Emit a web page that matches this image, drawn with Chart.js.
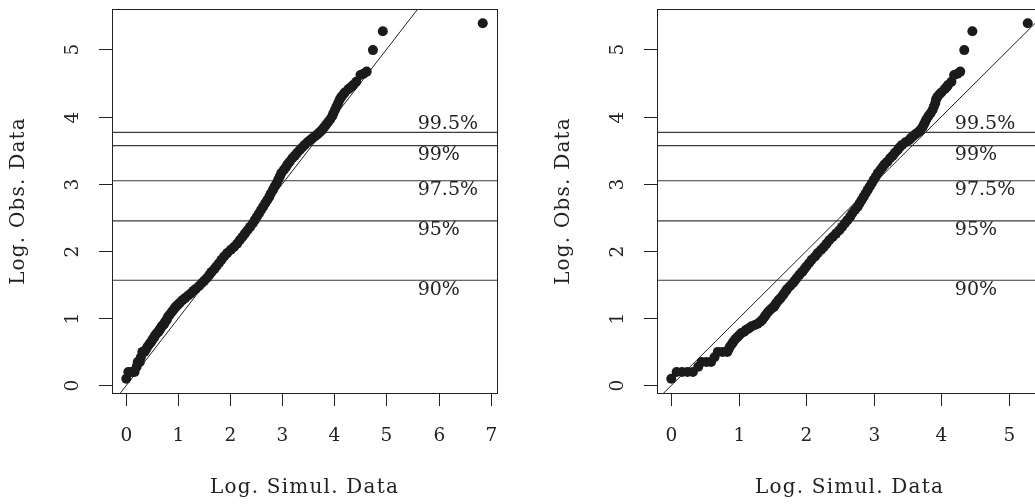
<!DOCTYPE html>
<html>
<head>
<meta charset="utf-8">
<script src="https://cdn.jsdelivr.net/npm/chart.js@4"></script>
<style>
  html, body { margin: 0; padding: 0; background: #fff; }
  #wrap { width: 1035px; height: 504px; overflow: hidden; position: relative; }
  canvas { position: absolute; top: 0; }
  #qqLeft { left: 0; }
  #qqRight { left: 545px; }
</style>
</head>
<body>
<div id="wrap">
  <canvas id="qqLeft" width="545" height="504"></canvas>
  <canvas id="qqRight" width="545" height="504"></canvas>
</div>
<script>
/* ── Data ───────────────────────────────────────────── */
// sorted log observed data, shared by both panels
const obsY = [0.10, 0.20, 0.20, 0.20, 0.20, 0.28, 0.35, 0.35, 0.35, 0.42,
  0.50, 0.50, 0.50, 0.54, 0.58, 0.62, 0.65, 0.69, 0.72, 0.75,
  0.78, 0.80, 0.83, 0.85, 0.88, 0.90, 0.92, 0.95, 0.98, 1.02,
  1.05, 1.09, 1.12, 1.15, 1.17, 1.20, 1.23, 1.27, 1.30, 1.34,
  1.37, 1.41, 1.44, 1.48, 1.52, 1.56, 1.60, 1.65, 1.69, 1.73,
  1.77, 1.82, 1.87, 1.92, 1.97, 2.02, 2.06, 2.11, 2.16, 2.21,
  2.26, 2.31, 2.36, 2.41, 2.46, 2.51, 2.56, 2.61, 2.66, 2.71,
  2.76, 2.81, 2.86, 2.91, 2.96, 3.01, 3.06, 3.11, 3.16, 3.21,
  3.25, 3.29, 3.33, 3.38, 3.42, 3.46, 3.50, 3.54, 3.58, 3.62,
  3.65, 3.68, 3.71, 3.74, 3.77, 3.80, 3.84, 3.88, 3.92, 3.96,
  4.01, 4.05, 4.10, 4.15, 4.20, 4.25, 4.29, 4.33, 4.36, 4.41,
  4.44, 4.47, 4.52, 4.62, 4.64, 4.67, 4.99, 5.27, 5.39];
// sorted log simulated data, left panel
const simLeft = [0.00, 0.04, 0.08, 0.12, 0.16, 0.20, 0.22, 0.24, 0.26, 0.28,
  0.31, 0.33, 0.35, 0.38, 0.41, 0.45, 0.48, 0.51, 0.54, 0.56,
  0.59, 0.62, 0.64, 0.66, 0.68, 0.71, 0.73, 0.75, 0.78, 0.80,
  0.83, 0.87, 0.90, 0.93, 0.95, 0.99, 1.03, 1.08, 1.13, 1.19,
  1.24, 1.29, 1.34, 1.40, 1.45, 1.50, 1.55, 1.60, 1.64, 1.69,
  1.73, 1.78, 1.83, 1.88, 1.94, 2.01, 2.07, 2.13, 2.18, 2.23,
  2.28, 2.33, 2.38, 2.43, 2.47, 2.51, 2.55, 2.59, 2.63, 2.67,
  2.71, 2.75, 2.78, 2.82, 2.85, 2.89, 2.92, 2.95, 2.98, 3.03,
  3.07, 3.10, 3.14, 3.19, 3.24, 3.28, 3.33, 3.38, 3.43, 3.48,
  3.53, 3.58, 3.63, 3.68, 3.72, 3.76, 3.80, 3.84, 3.88, 3.92,
  3.96, 3.98, 4.01, 4.04, 4.07, 4.10, 4.13, 4.17, 4.20, 4.27,
  4.32, 4.36, 4.42, 4.50, 4.56, 4.62, 4.74, 4.93, 6.85];
// sorted log simulated data, right panel
const simRight = [0.00, 0.08, 0.16, 0.24, 0.32, 0.40, 0.45, 0.52, 0.59, 0.64,
  0.69, 0.76, 0.83, 0.85, 0.87, 0.90, 0.92, 0.95, 0.98, 1.01,
  1.04, 1.08, 1.11, 1.15, 1.19, 1.24, 1.28, 1.32, 1.35, 1.38,
  1.40, 1.43, 1.46, 1.49, 1.52, 1.54, 1.56, 1.59, 1.62, 1.65,
  1.67, 1.70, 1.72, 1.76, 1.80, 1.83, 1.86, 1.90, 1.94, 1.97,
  2.00, 2.04, 2.08, 2.13, 2.17, 2.22, 2.26, 2.30, 2.34, 2.39,
  2.44, 2.49, 2.53, 2.57, 2.61, 2.65, 2.68, 2.72, 2.76, 2.79,
  2.82, 2.85, 2.88, 2.91, 2.94, 2.97, 3.00, 3.03, 3.06, 3.10,
  3.13, 3.16, 3.20, 3.24, 3.28, 3.31, 3.35, 3.38, 3.42, 3.47,
  3.52, 3.55, 3.58, 3.62, 3.66, 3.69, 3.72, 3.74, 3.76, 3.78,
  3.81, 3.84, 3.87, 3.89, 3.91, 3.92, 3.94, 3.97, 4.00, 4.05,
  4.08, 4.10, 4.15, 4.19, 4.24, 4.28, 4.34, 4.46, 5.28];

const qLabels = ['90%', '95%', '97.5%', '99%', '99.5%'];
const qValues = [1.566, 2.45, 3.046, 3.57, 3.765];

const xTicksLeft  = [0, 1, 2, 3, 4, 5, 6, 7];
const xTicksRight = [0, 1, 2, 3, 4, 5];
const yTicks      = [0, 1, 2, 3, 4, 5];

const refIntercept = 0, refSlope = 1;

/* ── Style ──────────────────────────────────────────── */
const INK = '#222';
const SERIF = '"DejaVu Serif", "Liberation Serif", serif';
const BOX = { left: 112, top: 9, right: 497, bottom: 393, w: 545, h: 504 };

// R style axis range: data range extended by 4 %
function rRange(v) {
  const lo = Math.min(...v), hi = Math.max(...v), d = (hi - lo) * 0.04;
  return [lo - d, hi + d];
}

/* ── R-like frame: box, ticks, labels ───────────────── */
const rFrame = {
  id: 'rFrame',
  afterDraw(chart, args, o) {
    const { ctx, chartArea: a, scales: { x, y } } = chart;
    ctx.save();
    ctx.strokeStyle = INK;
    ctx.fillStyle = INK;
    ctx.lineWidth = 1;
    ctx.strokeRect(a.left + 0.5, a.top + 0.5, a.right - a.left, a.bottom - a.top);

    ctx.font = '18.5px ' + SERIF;
    ctx.textAlign = 'center';
    ctx.textBaseline = 'middle';
    x.ticks.forEach(t => {
      const px = Math.round(x.getPixelForValue(t.value)) + 0.5;
      ctx.beginPath(); ctx.moveTo(px, a.bottom); ctx.lineTo(px, a.bottom + 13); ctx.stroke();
      ctx.fillText(String(t.value), px, a.bottom + 43);
    });
    y.ticks.forEach(t => {
      const py = Math.round(y.getPixelForValue(t.value)) + 0.5;
      ctx.beginPath(); ctx.moveTo(a.left, py); ctx.lineTo(a.left - 13, py); ctx.stroke();
      ctx.save();
      ctx.translate(a.left - 39, py);
      ctx.rotate(-Math.PI / 2);
      ctx.fillText(String(t.value), 0, 0);
      ctx.restore();
    });

    // quantile labels
    ctx.font = '19px ' + SERIF;
    ctx.textAlign = 'left';
    qLabels.forEach((lab, i) => {
      const py = y.getPixelForValue(qValues[i]) + (i === qLabels.length - 1 ? -8.5 : 9.7);
      ctx.fillText(lab, x.getPixelForValue(o.labelX), py);
    });

    // axis titles
    ctx.font = '20px ' + SERIF;
    ctx.letterSpacing = '1.2px';
    ctx.textAlign = 'center';
    ctx.fillText('Log. Simul. Data', (a.left + a.right) / 2, a.bottom + 94.5);
    ctx.save();
    ctx.translate(19, (a.top + a.bottom) / 2);
    ctx.rotate(-Math.PI / 2);
    ctx.fillText('Log. Obs. Data', 0, 0);
    ctx.restore();
    ctx.restore();
  }
};

/* ── One QQ panel ───────────────────────────────────── */
function drawPanel(id, simX, xTicks, labelX) {
  const [xMin, xMax] = rRange(simX);
  const [yMin, yMax] = rRange(obsY);
  const pts = simX.map((v, i) => ({ x: v, y: obsY[i] }));

  const hLines = qValues.map(q => ({
    data: [{ x: xMin, y: q }, { x: xMax, y: q }],
    showLine: true, pointRadius: 0, borderColor: '#3a3a3a', borderWidth: 1.2, order: 2
  }));
  const refLine = {
    data: [xMin, xMax].map(v => ({ x: v, y: refIntercept + refSlope * v })),
    showLine: true, pointRadius: 0, borderColor: INK, borderWidth: 1, order: 1
  };

  new Chart(document.getElementById(id), {
    type: 'scatter',
    data: {
      datasets: [
        { data: pts, pointRadius: 5, pointBackgroundColor: '#1b1b1b', pointBorderWidth: 0, order: 0 },
        refLine,
        ...hLines
      ]
    },
    options: {
      responsive: false, animation: false, devicePixelRatio: 1,
      layout: { padding: { top: BOX.top, right: BOX.w - BOX.right, left: 0, bottom: 0 } },
      plugins: { legend: { display: false }, tooltip: { enabled: false }, rFrame: { labelX } },
      scales: {
        x: {
          type: 'linear', min: xMin, max: xMax,
          grid: { display: false }, border: { display: false }, ticks: { display: false },
          afterBuildTicks: s => { s.ticks = xTicks.map(v => ({ value: v })); },
          afterFit: s => { s.height = BOX.h - BOX.bottom; }
        },
        y: {
          type: 'linear', min: yMin, max: yMax,
          grid: { display: false }, border: { display: false }, ticks: { display: false },
          afterBuildTicks: s => { s.ticks = yTicks.map(v => ({ value: v })); },
          afterFit: s => { s.width = BOX.left; }
        }
      }
    },
    plugins: [rFrame]
  });
}

drawPanel('qqLeft', simLeft, xTicksLeft, 5.6);
drawPanel('qqRight', simRight, xTicksRight, 4.2);
</script>
</body>
</html>
